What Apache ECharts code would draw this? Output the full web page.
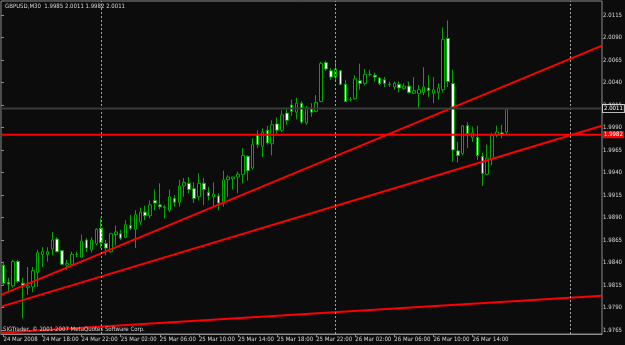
<!DOCTYPE html>
<html><head><meta charset="utf-8">
<script src="https://cdn.jsdelivr.net/npm/echarts@6/dist/echarts.min.js"></script>
<style>html,body{margin:0;padding:0;background:#0b0c0b}#c{width:625px;height:345px}</style>
</head><body><div id="c"></div>
<script>
const symbolTitle = "GBPUSD,M30  1.9985 2.0011 1.9982 2.0011";
const copyright = "SIGTrader, \u00a9 2001-2007 MetaQuotes Software Corp.";
const tickLabels = ["24 Mar 2008","24 Mar 18:00","24 Mar 22:00","25 Mar 02:00","25 Mar 06:00","25 Mar 10:00","25 Mar 14:00","25 Mar 18:00","25 Mar 22:00","26 Mar 02:00","26 Mar 06:00","26 Mar 10:00","26 Mar 14:00"];
const barsPerTick = 8;
const futureSlots = 19;
const open = [1.9837,1.9818,1.9814,1.9841,1.9817,1.9812,1.9813,1.9829,1.9849,1.9849,
1.9855,1.9866,1.9853,1.9837,1.9838,1.9849,1.9846,1.9865,1.9854,1.9861,
1.9878,1.9861,1.9852,1.9871,1.9872,1.9868,1.9881,1.9877,1.9885,1.9896,
1.9892,1.9909,1.9904,1.9901,1.9898,1.9911,1.9907,1.9925,1.9928,1.9922,
1.9913,1.9928,1.9918,1.9913,1.9914,1.9906,1.9932,1.9933,1.9935,1.9938,
1.9958,1.9945,1.9982,1.9969,1.9987,1.9972,1.9994,1.9987,2.0006,2.0015,
2.0007,2.0017,1.9995,2.0011,2.0008,2.0019,2.0062,2.0053,2.0046,2.0053,
2.0038,2.0021,2.0022,2.0042,2.0039,2.0049,2.0048,2.0045,2.0043,2.0038,
2.0035,2.0038,2.0033,2.0036,2.0028,2.0028,2.0029,2.0034,2.0028,2.0029,
2.0032,2.0089,2.0039,1.9964,1.9961,1.9992,1.9979,1.9979,1.9958,1.9938,
1.9955,1.9982,1.9984,1.9985];
const close = [1.9817,1.9816,1.9841,1.9819,1.9814,1.9814,1.9831,1.9851,1.9852,1.9852,
1.9865,1.9852,1.9838,1.9839,1.9849,1.9849,1.9864,1.9856,1.9865,1.9877,
1.9862,1.9856,1.9872,1.9874,1.9867,1.9882,1.9878,1.9893,1.9896,1.9892,
1.9904,1.9906,1.9902,1.9902,1.9913,1.9907,1.9925,1.9929,1.9921,1.9911,
1.9928,1.9921,1.9914,1.9916,1.9906,1.9932,1.9935,1.9935,1.9938,1.9959,
1.9942,1.9971,1.9971,1.9985,1.9973,1.9993,1.9987,2.0004,1.9998,2.0008,
2.0017,1.9996,2.0012,2.0007,2.0018,2.0061,2.0055,2.0046,2.0055,2.0038,
2.0019,2.0021,2.0044,2.0039,2.0049,2.0049,2.0046,2.0039,2.0039,2.0038,
2.0039,2.0034,2.0036,2.0029,2.0031,2.0032,2.0035,2.0031,2.0032,2.0034,
2.0088,2.0041,1.9965,1.9959,1.9992,1.9983,1.9984,1.9959,1.9939,1.9956,
1.9981,1.9985,1.9982,2.0011];
const low = [1.9814,1.9807,1.9812,1.9817,1.9778,1.9804,1.9807,1.9813,1.9835,1.9841,
1.9848,1.9851,1.9837,1.9832,1.9837,1.9846,1.9845,1.9852,1.9851,1.9859,
1.9856,1.9848,1.9851,1.9859,1.9865,1.9867,1.9876,1.9856,1.9882,1.9887,
1.9889,1.9898,1.9899,1.9889,1.9896,1.9902,1.9902,1.9913,1.9917,1.9906,
1.9909,1.9904,1.9909,1.9902,1.9898,1.9902,1.9913,1.9921,1.9917,1.9928,
1.9931,1.9943,1.9967,1.9957,1.9971,1.9959,1.9983,1.9985,1.9993,2.0003,
1.9999,1.9994,1.9993,2.0002,2.0007,2.0018,2.0053,2.0043,2.0043,2.0037,
2.0018,2.0019,2.0021,2.0032,2.0037,2.0047,2.0041,2.0037,2.0035,2.0035,
2.0032,2.0029,2.0032,2.0028,2.0028,2.0012,2.0026,2.0024,2.0017,2.0021,
2.0029,2.0035,1.9952,1.9951,1.9959,1.9967,1.9974,1.9954,1.9925,1.9937,
1.9948,1.9979,1.9978,1.9982];
const high = [1.9841,1.9823,1.9843,1.9843,1.9823,1.9835,1.9835,1.9854,1.9857,1.9857,
1.9874,1.9868,1.9854,1.9843,1.9852,1.9852,1.9871,1.9867,1.9868,1.9878,
1.9889,1.9865,1.9873,1.9881,1.9876,1.9887,1.9893,1.9898,1.9901,1.9903,
1.9909,1.9921,1.9928,1.9904,1.9921,1.9915,1.9932,1.9934,1.9935,1.9929,
1.9939,1.9934,1.9924,1.9929,1.9917,1.9942,1.9937,1.9935,1.9941,1.9967,
1.9959,1.9978,1.9987,1.9989,1.9992,1.9998,2.0001,2.0009,2.0012,2.0021,
2.0023,2.0019,2.0014,2.0017,2.0026,2.0063,2.0064,2.0056,2.0065,2.0054,
2.0043,2.0024,2.0048,2.0061,2.0055,2.0054,2.0051,2.0046,2.0046,2.0041,
2.0041,2.0041,2.0039,2.0041,2.0046,2.0037,2.0057,2.0048,2.0046,2.0039,
2.0101,2.0109,2.0054,1.9974,1.9992,1.9996,1.9991,1.9992,1.9962,1.9971,
1.9984,1.9992,1.9993,2.0011];
const priceAxisMin = 1.9765, priceAxisMax = 2.0115, priceStep = 0.0025;
const viewMin = 1.976056, viewMax = 2.013056;
const bidPrice = 2.0011;
const levelPrice = 1.9982;
const trendUpper = [[-0.5, 1.9804], [122.5, 2.0081]];
const trendMiddle = [[-0.5, 1.9791], [122.5, 1.9992]];
const trendLower = [[-0.5, 1.9762], [122.5, 1.9803]];
const daySeparators = [20, 68, 116];

const total = open.length + futureSlots;
const xL = -0.5, xR = total - 0.5;
const cats = Array.from({length: total}, (_, i) => String(i));
const candles = open.map((o, i) => [o, close[i], low[i], high[i]]);
const FONT = "'Liberation Sans Narrow','DejaVu Sans Condensed','Liberation Sans',sans-serif";
const TXT = '#d8d8d8';
const FRAME = '#8c8c8c';
const FS = 6;
const showTick = (idx) => idx < open.length && idx % barsPerTick === 0;
const seg = (name, d, color, width, z) => ({
  name, type: 'line', xAxisIndex: 1, yAxisIndex: 0, data: d, symbol: 'none', silent: true,
  lineStyle: {color, width}, z, animation: false
});
const hline = (name, price, color, width, labelStyle) => Object.assign(seg(name, [[xL, price], [xR, price]], color, width, 6), {
  endLabel: Object.assign({show: true, formatter: price.toFixed(4), fontSize: FS, fontFamily: FONT, distance: 1, padding: [1, 1, 0, 1]}, labelStyle)
});

const chart = echarts.init(document.getElementById('c'), null, {renderer: 'canvas'});
chart.setOption({
  backgroundColor: '#0b0c0b',
  animation: false,
  title: [
    {text: symbolTitle, left: 5, top: 3, padding: 0, textStyle: {color: TXT, fontSize: FS, fontWeight: 'normal', fontFamily: FONT}},
    {text: copyright, left: 3, top: 326, padding: 0, textStyle: {color: TXT, fontSize: FS, fontWeight: 'normal', fontFamily: FONT}}
  ],
  grid: [
    {left: 1, right: 23, top: 1, bottom: 11, show: true, borderColor: FRAME, borderWidth: 1, backgroundColor: 'transparent'},
    {left: 1, right: 23, top: 15, bottom: 15, show: false}
  ],
  xAxis: [
    {type: 'category', gridIndex: 0, data: cats, boundaryGap: true,
     axisLine: {show: true, lineStyle: {color: FRAME}},
     axisTick: {show: true, interval: showTick, alignWithLabel: true, length: 3, lineStyle: {color: FRAME}},
     axisLabel: {show: true, interval: showTick, showMinLabel: true, hideOverlap: false,
       formatter: (v) => tickLabels[Math.round(Number(v) / barsPerTick)],
       align: 'left', color: TXT, fontSize: FS, fontFamily: FONT, margin: 2},
     splitLine: {show: false}},
    {type: 'value', gridIndex: 0, min: xL, max: xR, show: false},
    {type: 'value', gridIndex: 1, show: false}
  ],
  yAxis: [
    {type: 'value', gridIndex: 0, min: viewMin, max: viewMax, show: false, scale: true},
    {type: 'value', gridIndex: 1, position: 'right', min: priceAxisMin, max: priceAxisMax, interval: priceStep,
     axisLine: {show: false}, splitLine: {show: false},
     axisTick: {show: true, length: 3, lineStyle: {color: FRAME}},
     axisLabel: {color: TXT, fontSize: FS, fontFamily: FONT, margin: 3, formatter: v => v.toFixed(4)}}
  ],
  series: [
    hline('bid', bidPrice, '#3a3a3a', 2, {color: '#ffffff', backgroundColor: '#0b0c0b', borderColor: '#d0d0d0', borderWidth: 1}),
    {type: 'candlestick', xAxisIndex: 0, yAxisIndex: 0, data: candles, barWidth: 3,
     itemStyle: {color: '#000000', color0: '#ffffff', borderColor: '#00a800', borderColor0: '#00a800', borderWidth: 1},
     z: 3},
    Object.assign(seg('upper', trendUpper, '#ff0000', 2, 4), {
      markLine: {silent: true, symbol: ['none', 'none'], animation: false, label: {show: false},
        lineStyle: {color: '#a0a0a0', width: 1, type: [2, 2]},
        data: daySeparators.map(x => ({xAxis: x}))}
    }),
    seg('middle', trendMiddle, '#ff0000', 2, 4),
    seg('lower', trendLower, '#ff0000', 2, 4),
    hline('level', levelPrice, '#ff0000', 2, {color: '#ffffff', backgroundColor: '#ff0000'})
  ]
});
</script></body></html>
